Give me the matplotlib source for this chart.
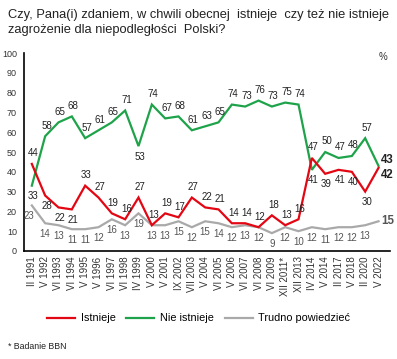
import matplotlib.pyplot as plt
from matplotlib.lines import Line2D

plt.rcParams['font.family'] = ['Liberation Sans Narrow', 'Liberation Sans', 'DejaVu Sans']

# survey waves
waves = ['II 1991', 'V 1992', 'VI 1993', 'VI 1994', 'V 1995', 'V 1996', 'VI 1997',
         'VI 1998', 'IV 1999', 'V 2000', 'V 2001', 'IX 2002', 'VII 2003', 'V 2004',
         'VI 2005', 'V 2006', 'VI 2007', 'VI 2008', 'VI 2009', 'XII 2011*',
         'XII 2013', 'IV 2014', 'V 2014', 'II 2017', 'V 2018', 'II 2020', 'V 2022']

istnieje = [44, 28, 22, 21, 33, 27, 19, 16, 27, 13, 19, 17, 27, 22, 21, 14, 14, 12,
            18, 13, 16, 47, 39, 41, 40, 30, 42]
nie_istnieje = [33, 58, 65, 68, 57, 61, 65, 71, 53, 74, 67, 68, 61, 63, 65, 74, 73, 76,
                73, 75, 74, 41, 50, 47, 48, 57, 43]
trudno = [23, 14, 13, 11, 11, 12, 16, 13, 19, 13, 13, 15, 12, 15, 14, 12, 13, 12,
          9, 12, 10, 12, 11, 12, 12, 13, 15]

RED = '#e30613'
GREEN = '#1fa34a'
GRAY = '#a9a9a9'

# which labels go below the line
red_below = {1, 2, 3, 22, 23, 24, 25}
green_below = {0, 8, 21}

fig = plt.figure(figsize=(3.97, 3.59), dpi=100)
ax = fig.add_axes([0.06, 0.301, 0.922, 0.551])

x = list(range(len(waves)))
ax.plot(x, trudno, color=GRAY, lw=1.6, solid_joinstyle='miter')
ax.plot(x, nie_istnieje, color=GREEN, lw=1.6, solid_joinstyle='miter')
ax.plot(x, istnieje, color=RED, lw=1.6, solid_joinstyle='miter')

lab_fs = 7
last = len(waves) - 1
for i in range(last):
    below = i in red_below
    ax.annotate(str(istnieje[i]), (i, istnieje[i]), textcoords='offset points',
                xytext=(1, -4 if below else 4), ha='center',
                va='top' if below else 'bottom', fontsize=lab_fs, color='#222222')
    below = i in green_below
    ax.annotate(str(nie_istnieje[i]), (i, nie_istnieje[i]), textcoords='offset points',
                xytext=(1, -4 if below else 4), ha='center',
                va='top' if below else 'bottom', fontsize=lab_fs, color='#222222')
    ax.annotate(str(trudno[i]), (i, trudno[i]), textcoords='offset points',
                xytext=(-2 if i == 0 else 0, -4), ha='center', va='top',
                fontsize=lab_fs, color='#555555')

# end labels
ax.annotate(str(nie_istnieje[last]), (last, nie_istnieje[last]), textcoords='offset points',
            xytext=(2, 4), ha='left', va='center', fontsize=8.3, fontweight='bold',
            color='#222222', annotation_clip=False)
ax.annotate(str(istnieje[last]), (last, istnieje[last]), textcoords='offset points',
            xytext=(2, -5), ha='left', va='center', fontsize=8.3, fontweight='bold',
            color='#222222', annotation_clip=False)
ax.annotate(str(trudno[last]), (last, trudno[last]), textcoords='offset points',
            xytext=(2, 0), ha='left', va='center', fontsize=8.3, fontweight='bold',
            color='#555555', annotation_clip=False)

ax.set_xlim(-0.6, 26.85)
ax.set_ylim(0, 100)
ax.set_yticks(range(0, 101, 10))
ax.set_xticks(x)
ax.set_xticklabels(waves, rotation=90, fontsize=7, color='#333333')
ax.tick_params(axis='y', length=0, labelsize=6.5, labelcolor='#333333', pad=5)
ax.tick_params(axis='x', length=0, pad=4)
for s in ['top', 'right']:
    ax.spines[s].set_visible(False)
ax.spines['left'].set_linewidth(1.2)
ax.spines['bottom'].set_linewidth(1.2)

fig.text(0.02, 0.975, 'Czy, Pana(i) zdaniem, w chwili obecnej  istnieje  czy też nie istnieje\n'
         'zagrożenie dla niepodległości  Polski?', ha='left', va='top', fontsize=9.3,
         family=['Liberation Sans', 'DejaVu Sans'], color='#222222', linespacing=1.3)
fig.text(0.965, 0.84, '%', ha='center', va='center', fontsize=7, color='#333333')

handles = [Line2D([], [], color=RED, lw=1.6),
           Line2D([], [], color=GREEN, lw=1.6),
           Line2D([], [], color=GRAY, lw=1.6)]
fig.legend(handles, ['Istnieje', 'Nie istnieje', 'Trudno powiedzieć'],
           loc='center', bbox_to_anchor=(0.5, 0.113), ncol=3, frameon=False,
           handlelength=2.6, handletextpad=0.5, columnspacing=1.0,
           prop={'family': ['Liberation Sans', 'DejaVu Sans'], 'size': 7.8})

fig.text(0.02, 0.035, '* Badanie BBN', ha='left', va='center', fontsize=6.3, color='#222222')

fig.savefig('out.png', dpi=100)
